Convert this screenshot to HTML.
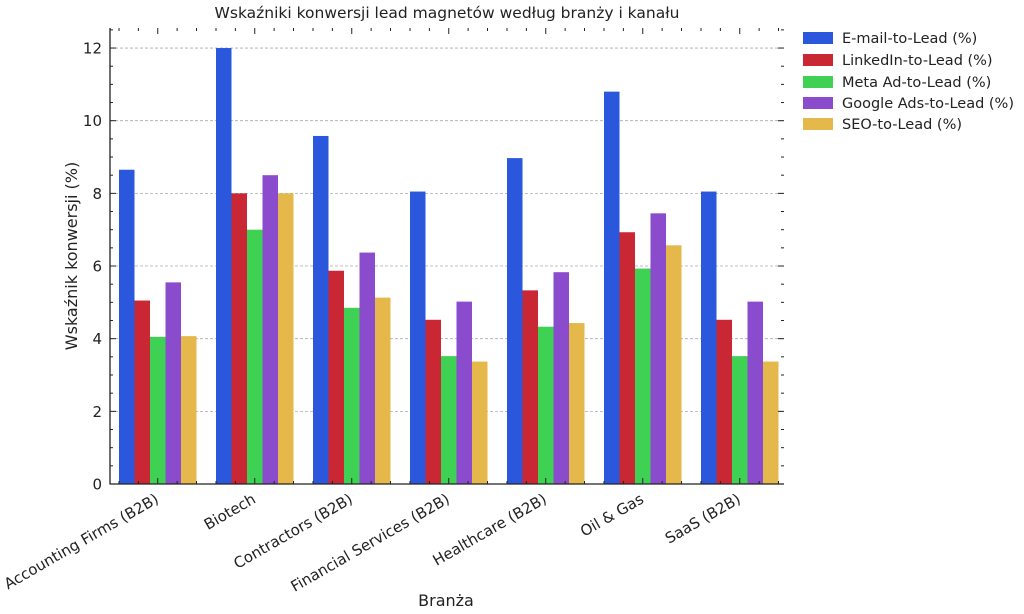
<!DOCTYPE html>
<html><head><meta charset="utf-8"><style>body{margin:0;background:#fff}svg{display:block}text{font-family:"DejaVu Sans","Liberation Sans",sans-serif;fill:#222}</style></head><body>
<svg width="1024" height="614" xmlns="http://www.w3.org/2000/svg">
<text x="447" y="18" font-size="15.5" text-anchor="middle">Wskaźniki konwersji lead magnetów według branży i kanału</text>
<g id="grid" stroke="#aaa" stroke-dasharray="3,2" stroke-width="0.8"></g>
<g id="bars"></g>
<g id="axes" stroke="#222"></g>
<g id="labels"></g>
<text x="446" y="606" font-size="16" text-anchor="middle">Branża</text>
<text transform="translate(77,256) rotate(-90)" font-size="16" text-anchor="middle">Wskaźnik konwersji (%)</text>
<g font-size="14.5">
<rect x="803" y="32" width="30" height="12" fill="#2a57dc"/><text x="842" y="43">E-mail-to-Lead (%)</text>
<rect x="803" y="54" width="30" height="12" fill="#c92734"/><text x="842" y="65">LinkedIn-to-Lead (%)</text>
<rect x="803" y="76" width="30" height="12" fill="#3fd154"/><text x="842" y="87">Meta Ad-to-Lead (%)</text>
<rect x="803" y="97" width="30" height="12" fill="#8b4bcd"/><text x="842" y="108">Google Ads-to-Lead (%)</text>
<rect x="803" y="118" width="30" height="12" fill="#e4b84a"/><text x="842" y="129">SEO-to-Lead (%)</text>
</g>
<script>
const ns="http://www.w3.org/2000/svg";
function el(p,t,a,txt){const e=document.createElementNS(ns,t);for(const k in a)e.setAttribute(k,a[k]);if(txt)e.textContent=txt;document.getElementById(p).appendChild(e);return e;}
const y0=484,u=36.33,L=110,R=784,T=28;
const Y=v=>y0-v*u;
for(let v=2;v<=12;v+=2)el("grid","line",{x1:L,x2:R,y1:Y(v),y2:Y(v)});
const cols=["#2a57dc","#c92734","#3fd154","#8b4bcd","#e4b84a"];
const names=["Accounting Firms (B2B)","Biotech","Contractors (B2B)","Financial Services (B2B)","Healthcare (B2B)","Oil & Gas","SaaS (B2B)"];
const d=[[8.65,5.05,4.05,5.55,4.07],[12,8,7,8.5,8],[9.58,5.87,4.85,6.37,5.13],[8.05,4.52,3.52,5.02,3.37],[8.97,5.33,4.33,5.83,4.43],[10.8,6.93,5.93,7.45,6.57],[8.05,4.52,3.52,5.02,3.37]];
const bw=15.5,sp=97;
d.forEach((g,i)=>{const s=119+i*sp;g.forEach((v,j)=>{el("bars","rect",{x:s+j*bw,y:Y(v),width:bw,height:v*u,fill:cols[j]});});
const c=s+2.5*bw;
el("labels","text",{transform:`translate(${c+2},${502}) rotate(-30)`,"font-size":"15","text-anchor":"end"},names[i]);
el("axes","line",{x1:c,x2:c,y1:y0,y2:y0-6,"stroke-width":1});
el("axes","line",{x1:c,x2:c,y1:T,y2:T+6,"stroke-width":1});
for(let k=-2;k<=2;k++){if(k==0)continue;const x=c+k*bw*1.25;el("axes","line",{x1:x,x2:x,y1:T,y2:T+3,"stroke-width":1});el("axes","line",{x1:x,x2:x,y1:y0,y2:y0-3,"stroke-width":1});}
});
el("axes","line",{x1:L,x2:L,y1:T,y2:y0+0.5,"stroke-width":1.3});
el("axes","line",{x1:L,x2:R,y1:y0,y2:y0,"stroke-width":1.3});
for(let v=0;v<=12.5;v+=0.5){const y=Y(v);const M=v%2==0;const l=M?6:3;
el("axes","line",{x1:L,x2:L+l,y1:y,y2:y,"stroke-width":1});el("axes","line",{x1:R,x2:R-l,y1:y,y2:y,"stroke-width":1});
if(M)el("labels","text",{x:L-8,y:y+5.5,"font-size":"15","text-anchor":"end"},String(v));}
</script>
</svg></body></html>
